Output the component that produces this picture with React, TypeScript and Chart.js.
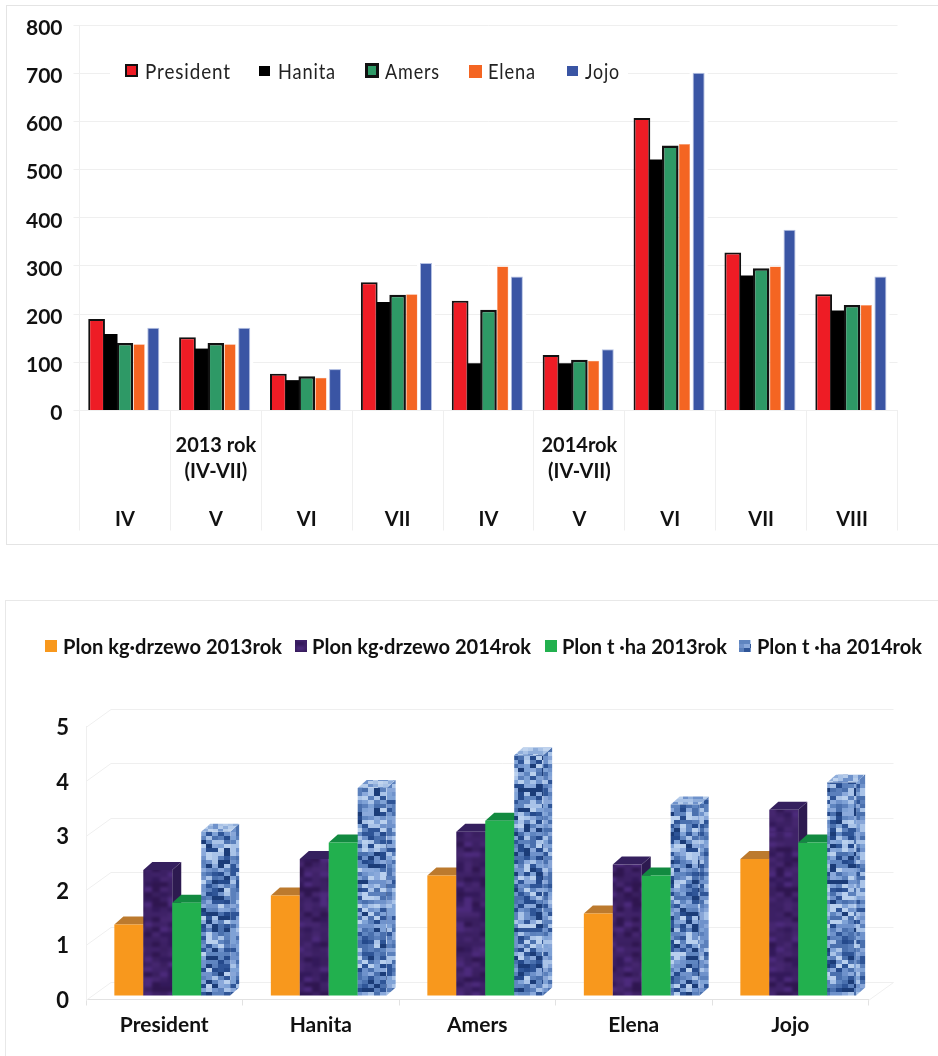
import React, { useEffect, useRef } from "react";
import { Chart, registerables } from "chart.js";

Chart.register(...registerables);

// ---------- data: top chart ----------
const months = ["IV", "V", "VI", "VII", "IV", "V", "VI", "VII", "VIII"];
const president = [190, 152, 76.5, 266, 228, 115, 607, 328, 241.5];
const hanita = [159, 128.5, 63, 225, 98, 98, 521, 280, 207.5];
const amers = [140, 140, 71, 240, 209, 105.5, 550, 295, 219];
const elena = [137.5, 137.5, 68, 241, 299, 103, 553, 299, 219];
const jojo = [171.5, 171.5, 86, 306, 278, 127, 701, 375, 278];
const group2013 = ["2013 rok", "(IV-VII)"];
const group2014 = ["2014rok", "(IV-VII)"];

// ---------- data: bottom chart ----------
const cultivars = ["President", "Hanita", "Amers", "Elena", "Jojo"];
const kgTree2013 = [1.3, 1.83, 2.2, 1.5, 2.5];
const kgTree2014 = [2.3, 2.5, 3.0, 2.4, 3.4];
const tHa2013 = [1.7, 2.8, 3.2, 2.2, 2.8];
const tHa2014 = [3.0, 3.8, 4.4, 3.5, 3.9];

const FONT = "Lato, 'Open Sans', sans-serif";
const GRID = "#efefef";
const TEXT = "#111";

function texture(palette: string[], bw: number, bh: number, seed: number, blur: number) {
  const size = 240;
  const raw = document.createElement("canvas");
  raw.width = size;
  raw.height = size;
  const r = raw.getContext("2d")!;
  let s = seed;
  const next = () => {
    s = (s * 1103515245 + 12345) & 0x7fffffff;
    return s / 0x7fffffff;
  };
  for (let y = 0; y < size; y += bh) {
    for (let x = 0; x < size; x += bw) {
      r.fillStyle = palette[Math.floor(next() * palette.length)];
      r.fillRect(x, y, bw, bh);
    }
  }
  const cv = document.createElement("canvas");
  cv.width = size;
  cv.height = size;
  const c = cv.getContext("2d")!;
  c.fillStyle = palette[0];
  c.fillRect(0, 0, size, size);
  (c as any).filter = `blur(${blur}px)`;
  c.drawImage(raw, 0, 0);
  return c.createPattern(cv, "repeat")!;
}

const fixedAxisSize = (size: number) => (s: any) => {
  if (s.isHorizontal()) s.height = size;
  else s.width = size;
};

export default function App() {
  const topRef = useRef<HTMLCanvasElement>(null);
  const botRef = useRef<HTMLCanvasElement>(null);

  useEffect(() => {
    document.body.style.margin = "0";
    // ---------- top chart ----------
    const topLegend = [
      { swatch: [125, 64, 13, 13], text: 145, width: 86 },
      { swatch: [259, 66, 11, 10], text: 278, width: 58 },
      { swatch: [365, 63, 14, 15], text: 385, width: 55 },
      { swatch: [469, 65, 13, 13], text: 488, width: 48 },
      { swatch: [567, 66, 11, 10], text: 585, width: 35 },
    ];
    const topPlugin = {
      id: "topExtras",
      beforeDatasetsDraw(chart: any) {
        const ctx = chart.ctx;
        ctx.save();
        ctx.fillStyle = "#fff";
        ctx.fillRect(110, 50, 518, 40);
        // white halo that interrupts the grid beside the last series
        chart.getDatasetMeta(4).data.forEach((b: any) => {
          ctx.fillRect(b.x - b.width / 2 - 3, b.y - 1, b.width + 6, b.base - b.y);
        });
        ctx.restore();
        chart.data.datasets.forEach((_: any, i: number) => chart.getDatasetMeta(i).controller.draw());
        return false;
      },
      afterDraw(chart: any) {
        const ctx = chart.ctx;
        const x = chart.scales.x;
        ctx.save();
        ctx.fillStyle = TEXT;
        ctx.textAlign = "center";
        ctx.textBaseline = "middle";
        ctx.font = `bold 20px ${FONT}`;
        group2013.forEach((t, i) => ctx.fillText(t, x.getPixelForValue(1), 446 + i * 26));
        group2014.forEach((t, i) => ctx.fillText(t, x.getPixelForValue(5), 446 + i * 26));
        ctx.textAlign = "left";
        ctx.font = `21px ${FONT}`;
        (ctx as any).letterSpacing = "1px";
        chart.data.datasets.forEach((d: any, i: number) => {
          const l = topLegend[i];
          const [sx, sy, sw, sh] = l.swatch;
          const bw = Math.round(d.borderWidth);
          ctx.fillStyle = bw > 1 ? d.borderColor : d.backgroundColor;
          ctx.fillRect(sx, sy, sw, sh);
          if (bw > 1) {
            ctx.fillStyle = d.backgroundColor;
            ctx.fillRect(sx + bw, sy + bw, sw - 2 * bw, sh - 2 * bw);
          }
          ctx.fillStyle = "#222";
          ctx.fillText(d.label, l.text, 72, l.width);
        });
        ctx.restore();
      },
    };

    const topChart = new Chart(topRef.current!, {
      type: "bar",
      data: {
        labels: months,
        datasets: [
          { label: "President", data: president, backgroundColor: "#EE1C25", borderColor: "#111", borderWidth: 2, barPercentage: 1.18 },
          { label: "Hanita", data: hanita, backgroundColor: "#000", borderColor: "#000", borderWidth: 0, barPercentage: 0.95 },
          { label: "Amers", data: amers, backgroundColor: "#2E9966", borderColor: "#111", borderWidth: 2.5, barPercentage: 1.17 },
          { label: "Elena", data: elena, backgroundColor: "#F46522", borderColor: "#F9A77F", borderWidth: 0.5, barPercentage: 0.8 },
          { label: "Jojo", data: jojo, backgroundColor: "#3A55A4", borderColor: "#B4C0E2", borderWidth: 1, barPercentage: 0.85 },
        ] as any,
      },
      plugins: [topPlugin],
      options: {
        responsive: false,
        animation: false,
        devicePixelRatio: 1,
        layout: { padding: { left: 0, right: 40.5, top: 25, bottom: 0 } },
        datasets: { bar: { categoryPercentage: 0.78 } },
        plugins: { legend: { display: false }, tooltip: { enabled: false } },
        scales: {
          x: {
            afterFit: fixedAxisSize(137.5),
            grid: { color: GRID, tickColor: GRID, tickLength: 120, drawOnChartArea: false, offset: true },
            border: { color: GRID },
            ticks: { padding: -23, color: TEXT, font: { family: FONT, weight: "bold", size: 20 }, autoSkip: false, maxRotation: 0 },
          },
          y: {
            min: 0,
            max: 800,
            afterFit: fixedAxisSize(79.5),
            grid: { color: GRID, tickColor: GRID, tickLength: 6 },
            border: { color: GRID },
            ticks: { stepSize: 100, padding: 11, labelOffset: 3, color: TEXT, font: { family: FONT, weight: "bold", size: 21 } },
          },
        },
      } as any,
    });

    // ---------- bottom chart ----------
    const CY = 596; // canvas top on the page
    const bluePattern = texture(
      ["#6F92CB", "#8AA9DB", "#A9C3E8", "#B9D0EE", "#5B80BC", "#4A70AE", "#254A8C", "#1B3C78", "#2F5597", "#7FA2D6", "#5F85C0"],
      6, 4, 7, 0.6
    );
    const blueSide = texture(
      ["#6F92CB", "#88A6D8", "#A9C3E8", "#5B80BC", "#4A70AE", "#2F5597", "#7FA2D6"],
      6, 4, 19, 0.6
    );
    const blueTop = texture(["#A9C2E6", "#8FADDA", "#C1D4EE", "#6F92CB", "#B6CCEA"], 5, 3, 23, 0.6);
    const purplePattern = texture(["#3F2268", "#3A1F60", "#45266F", "#33195A", "#4C2A7C", "#3C2064", "#2F1650"], 8, 5, 11, 1.5);
    const depth = { dx: 9, dy: 8 };
    const shift = { x: 8, y: -4 };
    const wall = { dx: 25, dy: -18 };
    const looks = [
      { top: "#BC7A2E", side: "#B8741F" },
      { top: "#35205E", side: "#2D1A50" },
      { top: "#128A40", side: "#0F7A38" },
      { top: blueTop, side: blueSide },
    ];
    const botLegend = [
      { swatch: 45, text: 63, width: 219 },
      { swatch: 295, text: 312, width: 219 },
      { swatch: 545, text: 562, width: 165 },
      { swatch: 739, text: 757, width: 165 },
    ];
    const botPlugin = {
      id: "bar3d",
      beforeDatasetsDraw(chart: any) {
        const ctx = chart.ctx;
        const { x, y } = chart.scales;
        ctx.save();
        ctx.strokeStyle = GRID;
        ctx.lineWidth = 1;
        ctx.beginPath();
        y.ticks.forEach((t: any) => {
          const py = Math.round(y.getPixelForValue(t.value)) + 0.5;
          ctx.moveTo(x.left, py);
          ctx.lineTo(x.left + wall.dx, py + wall.dy);
          ctx.lineTo(x.right + wall.dx, py + wall.dy);
        });
        const by = Math.round(y.getPixelForValue(0)) + 0.5;
        ctx.moveTo(x.right, by);
        ctx.lineTo(x.right + wall.dx, by + wall.dy);
        ctx.stroke();
        ctx.restore();

        ctx.save();
        ctx.translate(shift.x, shift.y);
        chart.data.datasets.forEach((_: any, i: number) => {
          const meta = chart.getDatasetMeta(i);
          const look = looks[i];
          meta.data.forEach((b: any) => {
            const l = b.x - b.width / 2;
            const r = b.x + b.width / 2;
            const t = b.y;
            const bt = b.base;
            ctx.fillStyle = look.side;
            ctx.beginPath();
            ctx.moveTo(r, t);
            ctx.lineTo(r + depth.dx, t - depth.dy);
            ctx.lineTo(r + depth.dx, bt - depth.dy);
            ctx.lineTo(r, bt);
            ctx.closePath();
            ctx.fill();
            ctx.fillStyle = look.top;
            ctx.beginPath();
            ctx.moveTo(l, t);
            ctx.lineTo(l + depth.dx, t - depth.dy);
            ctx.lineTo(r + depth.dx, t - depth.dy);
            ctx.lineTo(r, t);
            ctx.closePath();
            ctx.fill();
          });
          meta.controller.draw();
        });
        ctx.restore();
        return false;
      },
      afterDraw(chart: any) {
        const ctx = chart.ctx;
        ctx.save();
        ctx.textAlign = "left";
        ctx.textBaseline = "middle";
        ctx.font = `bold 21px ${FONT}`;
        chart.data.datasets.forEach((d: any, i: number) => {
          const l = botLegend[i];
          ctx.fillStyle = d.backgroundColor;
          ctx.fillRect(l.swatch, 640 - CY, 12, 12);
          ctx.fillStyle = TEXT;
          ctx.fillText(d.label, l.text, 647 - CY, l.width);
        });
        ctx.restore();
      },
    };

    const botChart = new Chart(botRef.current!, {
      type: "bar",
      data: {
        labels: cultivars,
        datasets: [
          { label: "Plon kg·drzewo 2013rok", data: kgTree2013, backgroundColor: "#F8981D" },
          { label: "Plon kg·drzewo 2014rok", data: kgTree2014, backgroundColor: purplePattern },
          { label: "Plon t ·ha 2013rok", data: tHa2013, backgroundColor: "#22B04E" },
          { label: "Plon t ·ha 2014rok", data: tHa2014, backgroundColor: bluePattern },
        ] as any,
      },
      plugins: [botPlugin],
      options: {
        responsive: false,
        animation: false,
        devicePixelRatio: 1,
        layout: { padding: { left: 0, right: 69.5, top: 130.5, bottom: 0 } },
        datasets: { bar: { categoryPercentage: 0.74, barPercentage: 1 } },
        plugins: { legend: { display: false }, tooltip: { enabled: false } },
        scales: {
          x: {
            afterFit: fixedAxisSize(56.5),
            grid: { color: GRID, tickColor: "#e2e2e2", tickLength: 6, drawOnChartArea: false, offset: true },
            border: { color: "#e2e2e2" },
            ticks: { padding: 7, color: TEXT, font: { family: FONT, weight: "bold", size: 21 }, autoSkip: false, maxRotation: 0 },
          },
          y: {
            min: 0,
            max: 5,
            afterFit: fixedAxisSize(86),
            grid: { display: false },
            border: { color: GRID },
            ticks: { stepSize: 1, padding: 9, labelOffset: 1.5, color: TEXT, font: { family: FONT, weight: "bold", size: 22 } },
          },
        },
      } as any,
    });

    return () => {
      topChart.destroy();
      botChart.destroy();
    };
  }, []);

  const abs: React.CSSProperties = { position: "absolute", left: 0 };
  return (
    <div style={{ position: "absolute", left: 0, top: 0, width: 938, height: 1056, overflow: "hidden", background: "#fff" }}>
      <div style={{ position: "absolute", left: 6, top: 5, width: 1000, height: 538, border: "1px solid #e4e4e4" }} />
      <div style={{ position: "absolute", left: 5, top: 600, width: 1000, height: 600, border: "1px solid #e8e8e8" }} />
      <canvas ref={topRef} width={938} height={548} style={{ ...abs, top: 0 }} />
      <canvas ref={botRef} width={938} height={460} style={{ ...abs, top: 596 }} />
    </div>
  );
}
